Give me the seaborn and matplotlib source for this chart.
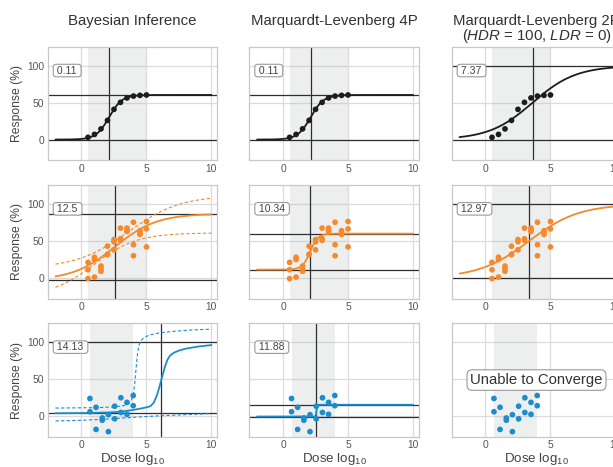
import numpy as np
import pandas as pd
import matplotlib
matplotlib.use("Agg")
import matplotlib.pyplot as plt
import seaborn as sns

# ---- observed data (dose in log10 units, response in %) ----
dose_a = [0.5, 1.0, 1.5, 2.0, 2.5, 3.0, 3.5, 4.0, 4.5, 5.0]
resp_a = [3, 7, 14.5, 26, 41, 50.5, 56.5, 59, 60, 60.5]

dose_b = [0.5, 0.5, 0.5, 1.0, 1.0, 1.0, 1.5, 1.5, 1.5, 2.0, 2.0, 2.0,
          2.5, 2.5, 2.5, 3.0, 3.0, 3.0, 3.5, 3.5, 3.5, 4.0, 4.0, 4.0,
          4.5, 4.5, 4.5, 5.0, 5.0, 5.0]
resp_b = [21, 11, -1, 28, 25, 1, 16, 12.5, 9, 43, 31.5, 32,
          52, 49, 38, 67.5, 53, 51, 67.5, 64, 63, 75.5, 45, 30,
          64, 61, 59, 76.5, 66.5, 42]

dose_c = [0.65, 0.65, 1.12, 1.12, 1.6, 1.6, 2.07, 2.07,
          2.55, 2.55, 3.03, 3.03, 3.5, 3.5, 3.98, 3.98]
resp_c = [24, 6, 12, -18, -2.5, -5.5, 2, -21,
          13.5, -3.6, 25, 5, 18.7, 2.5, 28, 14.2]

# ---- fitted logistic parameters: [bottom, top, EC50, slope] ----
bayes_a = [0, 60.5, 2.12, 2.0]
ml4_a = [0, 60.5, 2.12, 2.0]
ml2_a = [0, 100, 3.62, 0.6]

bayes_b = [-3, 87, 2.56, 0.62]
bayes_b_lower = [-25, 61, 0.95, 0.61]
bayes_b_upper = [13, 112, 3.6, 0.5]
ml4_b = [11.2, 60, 2.08, 3.3]
ml2_b = [0, 100, 3.35, 0.52]

ml4_c = [-0.5, 15.5, 2.57, 40]

# Bayesian posterior summary for the noisy dataset: [bottom, top, EC50]
bayes_c = [4, 100, 6.1]
bayes_c_x = [-2, 0, 2, 3, 4, 4.6, 5.0, 5.3, 5.55, 5.8, 6.0, 6.2, 6.4, 6.6,
             6.8, 7.1, 7.5, 8, 9, 10]
bayes_c_y = [4, 4.2, 5, 6, 8.5, 10.5, 12, 13.5, 18, 28, 40, 53, 66, 76,
             82, 86, 89, 91.5, 94.5, 96.5]
bayes_c_upper_x = [-2, 1, 2.5, 3.2, 3.6, 3.85, 4.0, 4.1, 4.2, 4.3, 4.4,
                   4.55, 4.8, 5.2, 6, 7, 8.5, 10]
bayes_c_upper_y = [11, 11.5, 12.5, 14, 17, 22, 30, 45, 65, 83, 95,
                   102, 106.5, 110, 113, 115, 117, 118]
bayes_c_lower_x = [-2, 0, 2, 4, 6, 8, 10]
bayes_c_lower_y = [-6.5, -5.6, -4, -1.5, 0.5, 2, 3.5]

# goodness-of-fit labels per panel
labels_a = ["0.11", "0.11", "7.37"]
labels_b = ["12.5", "10.34", "12.97"]
labels_c = ["14.13", "11.88", None]

titles = ["Bayesian Inference", "Marquardt-Levenberg 4P",
          "Marquardt-Levenberg 2P"]
title_sub = r"($\mathit{HDR}$ = 100, $\mathit{LDR}$ = 0)"

BLACK = "#1c1c1c"
ORANGE = "#f5892c"
BLUE = "#1b8dcc"

sns.set_theme(style="whitegrid")
plt.rcParams["font.family"] = ["Liberation Sans", "DejaVu Sans"]
plt.rcParams["mathtext.fontset"] = "custom"
plt.rcParams["mathtext.rm"] = "Liberation Sans"
plt.rcParams["mathtext.it"] = "Liberation Sans:italic"


def logistic(p, x):
    b, t, c, k = p
    return b + (t - b) / (1.0 + np.exp(-k * (x - c)))


xgrid = np.linspace(-2, 10, 600)

W, H = 613, 467
fig = plt.figure(figsize=(W / 100, H / 100), dpi=100)
lefts = [47.7, 249.3, 451.7]
tops = [46.7, 185.0, 323.3]
aw, ah = 169.6, 113.5


def make_ax(r, c):
    ax = fig.add_axes([lefts[c] / W, 1 - (tops[r] + ah) / H, aw / W, ah / H])
    ax.set_xlim(-2.6, 10.45)
    ax.set_ylim(-28, 126)
    ax.set_xticks([0, 5, 10])
    ax.set_yticks([0, 50, 100])
    ax.grid(True, color="#dcdcdc", lw=0.9)
    for s in ax.spines.values():
        s.set_color("#c8c8c8")
        s.set_linewidth(0.9)
    ax.tick_params(labelsize=7.4, colors="#555555", length=0, pad=2.5)
    if c > 0:
        ax.set_yticklabels([])
    return ax


def shade(ax, dose):
    ax.axvspan(min(dose), max(dose), color="#a0aaa5", alpha=0.18, lw=0, zorder=1)


def ref_lines(ax, bottom, top, ec50):
    kw = dict(color="#2e2e2e", lw=0.9, zorder=2)
    ax.axhline(top, **kw)
    ax.axhline(bottom, **kw)
    ax.axvline(ec50, **kw)


def points(ax, dose, resp, color):
    sns.scatterplot(x=dose, y=resp, ax=ax, color=color, s=17,
                    edgecolor="none", linewidth=0, zorder=5, legend=False)


def curve(ax, p, color, lw=1.3, dashed=False):
    df = pd.DataFrame({"x": xgrid, "y": logistic(p, xgrid)})
    line = sns.lineplot(data=df, x="x", y="y", ax=ax, color=color, lw=lw,
                        estimator=None, sort=False, zorder=4)
    if dashed:
        line.lines[-1].set_linestyle((0, (3, 2)))


def path(ax, xs, ys, color, lw=1.3, dashed=False):
    sns.lineplot(x=xs, y=ys, ax=ax, color=color, lw=lw, estimator=None,
                 sort=False, zorder=4)
    if dashed:
        ax.lines[-1].set_linestyle((0, (3, 2)))


def tag(ax, text):
    ax.text(0.04, 0.79, f" {text} ", transform=ax.transAxes, fontsize=7.6,
            color="#444444", ha="left", va="center", zorder=6,
            bbox=dict(boxstyle="round,pad=0.12,rounding_size=0.3",
                      fc="white", ec="#9a9a9a", lw=0.8))


axes = [[make_ax(r, c) for c in range(3)] for r in range(3)]

# row 1: clean dataset
for c, p in enumerate([bayes_a, ml4_a, ml2_a]):
    ax = axes[0][c]
    shade(ax, dose_a)
    ref_lines(ax, p[0], p[1], p[2])
    curve(ax, p, BLACK)
    points(ax, dose_a, resp_a, BLACK)
    tag(ax, labels_a[c])

# row 2: moderately noisy dataset
ax = axes[1][0]
shade(ax, dose_b)
ref_lines(ax, bayes_b[0], bayes_b[1], bayes_b[2])
curve(ax, bayes_b_upper, ORANGE, lw=0.8, dashed=True)
curve(ax, bayes_b_lower, ORANGE, lw=0.8, dashed=True)
curve(ax, bayes_b, ORANGE)
points(ax, dose_b, resp_b, ORANGE)
for c, p in [(1, ml4_b), (2, ml2_b)]:
    ax = axes[1][c]
    shade(ax, dose_b)
    ref_lines(ax, p[0], p[1], p[2])
    curve(ax, p, ORANGE)
    points(ax, dose_b, resp_b, ORANGE)
for c in range(3):
    tag(axes[1][c], labels_b[c])

# row 3: very noisy dataset
ax = axes[2][0]
shade(ax, dose_c)
ref_lines(ax, bayes_c[0], bayes_c[1], bayes_c[2])
path(ax, bayes_c_upper_x, bayes_c_upper_y, BLUE, lw=0.8, dashed=True)
path(ax, bayes_c_lower_x, bayes_c_lower_y, BLUE, lw=0.8, dashed=True)
path(ax, bayes_c_x, bayes_c_y, BLUE)
points(ax, dose_c, resp_c, BLUE)

ax = axes[2][1]
shade(ax, dose_c)
ref_lines(ax, ml4_c[0], ml4_c[1], ml4_c[2])
curve(ax, ml4_c, BLUE)
points(ax, dose_c, resp_c, BLUE)

ax = axes[2][2]
shade(ax, dose_c)
points(ax, dose_c, resp_c, BLUE)
ax.text(0.5, 0.5, "Unable to Converge", transform=ax.transAxes,
        fontsize=10.7, color="#333333", ha="center", va="center", zorder=6,
        bbox=dict(boxstyle="round,pad=0.22,rounding_size=0.35",
                  fc="white", ec="#9a9a9a", lw=0.8))
for c in range(2):
    tag(axes[2][c], labels_c[c])

# axis labels and titles
for r in range(3):
    for c in range(3):
        axes[r][c].set_xlabel("")
        axes[r][c].set_ylabel("")
    axes[r][0].set_ylabel("Response (%)", fontsize=8.7, color="#444444")
    axes[r][0].yaxis.set_label_coords(-0.145, 0.5)
for c in range(3):
    axes[2][c].set_xlabel(r"Dose $\log_{10}$", fontsize=9.6, color="#444444")
    axes[2][c].xaxis.set_label_coords(0.5, -0.125)

for c in range(3):
    axes[0][c].text(0.5, 1 + 22.0 / ah, titles[c], transform=axes[0][c].transAxes,
                    fontsize=10.8, color="#333333", ha="center", va="baseline")
axes[0][2].text(0.5, 1 + 6.5 / ah, title_sub, transform=axes[0][2].transAxes,
                fontsize=10.8, color="#333333", ha="center", va="baseline")

fig.savefig("out.png", dpi=100)
